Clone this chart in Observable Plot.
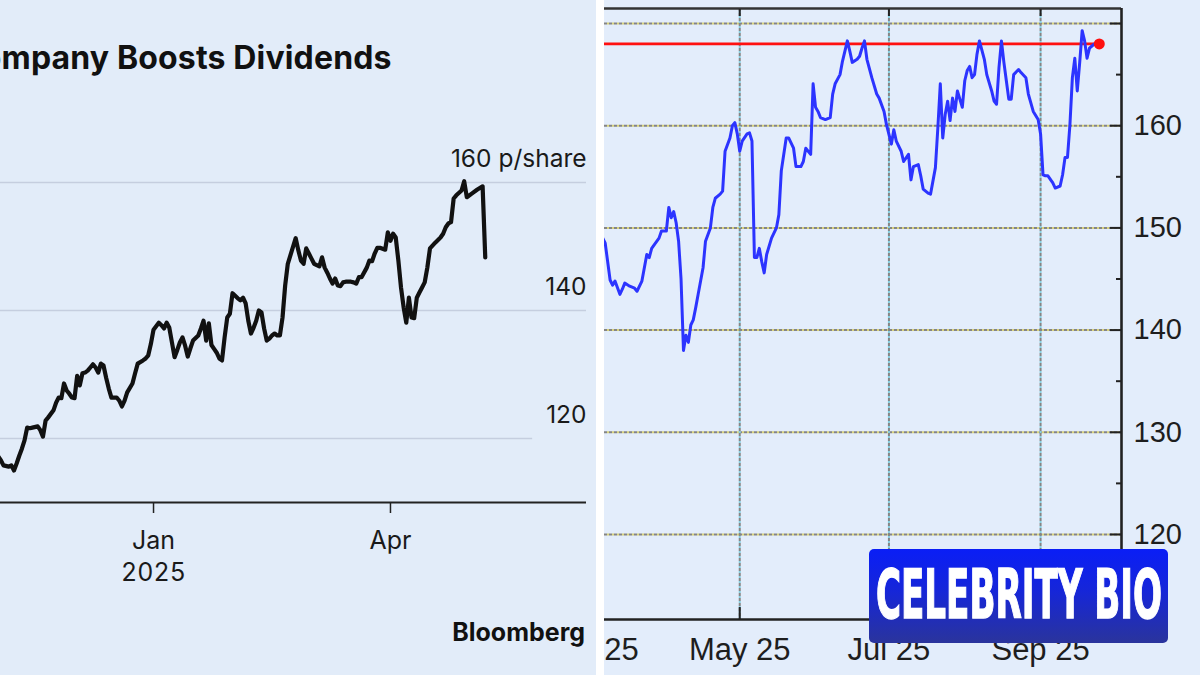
<!DOCTYPE html>
<html>
<head>
<meta charset="utf-8">
<script src="https://cdn.jsdelivr.net/npm/d3@7"></script>
<script src="https://cdn.jsdelivr.net/npm/@observablehq/plot@0.6"></script>
<style>
  html, body { margin: 0; padding: 0; background: #ffffff; }
  #stage { position: relative; width: 1200px; height: 675px; overflow: hidden; background: #ffffff; }
  #left { position: absolute; left: 0; top: 0; width: 596px; height: 675px; background: #e2ecf9; overflow: hidden; }
  #right { position: absolute; left: 604px; top: 0; width: 596px; height: 675px; background: #e3edfb; overflow: hidden; }
  #left svg, #right svg { position: absolute; left: 0; top: 0; }
  #title { position: absolute; left: -42px; top: 42px; font: 700 32px/32px Inter, "Liberation Sans", sans-serif; color: #111; white-space: nowrap; letter-spacing: 0.15px; }
  #source { position: absolute; right: 11px; top: 620px; font: 700 25px/25px Inter, "Liberation Sans", sans-serif; color: #111; white-space: nowrap; }
  #badge { position: absolute; left: 869px; top: 549px; width: 299px; height: 94px; border-radius: 5px;
           background: linear-gradient(180deg, #0a1ef6 0%, #1626d8 45%, #2a349c 100%); overflow: hidden; }
  #badge svg { display: block; }
</style>
</head>
<body>
<div id="stage">
  <div id="left">
    <div id="plotL"></div>
    <div id="title">Company Boosts Dividends</div>
    <div id="source">Bloomberg</div>
  </div>
  <div id="right"><div id="plotR"></div></div>
  <div id="badge">
    <svg width="299" height="94"><text id="badgeText" x="0" y="0"
      font-family="'Liberation Sans Narrow','DejaVu Sans Condensed','Liberation Sans',sans-serif"
      font-weight="700" font-size="67" fill="#ffffff" stroke="#ffffff" stroke-width="1.4">CELEBRITY BIO</text></svg>
  </div>
</div>
<script>
// ---------- LEFT CHART (Bloomberg, pence per share) ----------
const leftSeries = [
  ["2024-11-03",117.2],["2024-11-04",116.6],["2024-11-05",115.8],["2024-11-07",115.6],["2024-11-08",115.8],
  ["2024-11-09",115.0],["2024-11-10",116.1],["2024-11-11",117.3],["2024-11-12",118.4],["2024-11-13",119.7],
  ["2024-11-14",121.7],["2024-11-15",121.6],["2024-11-16",121.7],["2024-11-18",121.9],["2024-11-19",121.3],
  ["2024-11-20",120.3],["2024-11-21",122.8],["2024-11-22",123.3],["2024-11-24",124.4],["2024-11-25",125.6],
  ["2024-11-26",126.4],["2024-11-27",126.3],["2024-11-28",128.6],["2024-11-29",127.5],["2024-11-30",127.0],
  ["2024-12-01",126.4],["2024-12-02",126.3],["2024-12-03",129.8],["2024-12-04",128.3],["2024-12-05",130.2],
  ["2024-12-06",130.3],["2024-12-07",130.6],["2024-12-08",131.1],["2024-12-09",131.6],["2024-12-10",131.1],
  ["2024-12-11",130.3],["2024-12-12",131.7],["2024-12-13",131.4],["2024-12-14",129.5],["2024-12-15",127.8],
  ["2024-12-16",126.4],["2024-12-18",126.4],["2024-12-19",125.9],["2024-12-20",125.0],["2024-12-21",125.9],
  ["2024-12-22",127.2],["2024-12-24",128.6],["2024-12-25",130.2],["2024-12-26",131.7],["2024-12-28",132.2],
  ["2024-12-29",132.5],["2024-12-30",133.0],["2024-12-31",134.8],["2025-01-01",137.0],["2025-01-03",138.1],
  ["2025-01-04",137.7],["2025-01-05",137.2],["2025-01-06",138.1],["2025-01-07",137.3],["2025-01-08",135.0],
  ["2025-01-09",132.7],["2025-01-10",133.8],["2025-01-11",135.0],["2025-01-12",135.8],["2025-01-13",134.5],
  ["2025-01-14",132.8],["2025-01-15",134.1],["2025-01-16",135.3],["2025-01-18",136.1],["2025-01-19",137.2],
  ["2025-01-20",138.4],["2025-01-21",135.3],["2025-01-22",138.0],["2025-01-23",134.6],["2025-01-24",134.0],
  ["2025-01-25",133.4],["2025-01-26",132.5],["2025-01-27",132.2],["2025-01-28",135.8],["2025-01-29",138.9],
  ["2025-01-30",139.5],["2025-01-31",142.7],["2025-02-01",142.3],["2025-02-02",141.9],["2025-02-03",141.6],
  ["2025-02-04",142.0],["2025-02-05",141.1],["2025-02-06",138.4],["2025-02-07",136.4],["2025-02-08",137.3],
  ["2025-02-09",138.4],["2025-02-10",140.0],["2025-02-11",139.7],["2025-02-12",137.2],["2025-02-13",135.3],
  ["2025-02-14",135.6],["2025-02-15",136.1],["2025-02-16",136.4],["2025-02-17",136.1],["2025-02-18",136.1],
  ["2025-02-19",138.9],["2025-02-20",143.9],["2025-02-21",147.3],["2025-02-24",151.3],["2025-02-25",149.4],
  ["2025-02-26",147.8],["2025-02-27",147.3],["2025-02-28",149.7],["2025-03-01",148.9],["2025-03-02",148.1],
  ["2025-03-03",147.3],["2025-03-05",146.9],["2025-03-06",148.3],["2025-03-07",146.7],["2025-03-08",145.9],
  ["2025-03-09",145.0],["2025-03-10",144.2],["2025-03-11",145.0],["2025-03-12",143.9],["2025-03-13",143.8],
  ["2025-03-14",144.4],["2025-03-15",144.5],["2025-03-17",144.5],["2025-03-18",144.4],["2025-03-19",144.2],
  ["2025-03-20",145.2],["2025-03-21",145.2],["2025-03-23",146.7],["2025-03-24",147.8],["2025-03-25",147.7],
  ["2025-03-26",148.9],["2025-03-27",149.8],["2025-03-28",149.8],["2025-03-30",149.5],["2025-03-31",152.2],
  ["2025-04-01",150.9],["2025-04-02",152.0],["2025-04-03",151.4],["2025-04-04",147.8],["2025-04-05",143.6],
  ["2025-04-06",140.5],["2025-04-07",138.1],["2025-04-08",142.0],["2025-04-09",138.9],["2025-04-10",138.8],
  ["2025-04-11",142.0],["2025-04-12",142.8],["2025-04-13",143.6],["2025-04-14",144.4],["2025-04-15",146.7],
  ["2025-04-16",149.7],["2025-04-18",150.6],["2025-04-20",151.4],["2025-04-21",152.0],["2025-04-22",153.0],
  ["2025-04-23",153.6],["2025-04-24",153.8],["2025-04-25",157.5],["2025-04-26",158.0],["2025-04-28",158.75],
  ["2025-04-29",160.2],["2025-04-30",157.7],["2025-05-02",158.3],["2025-05-04",158.9],["2025-05-06",159.4],
  ["2025-05-07",148.3]
];
const leftYTicks = [120, 140, 160];
const leftYLabels = ["120", "140", "160 p/share"];
const leftGridEnd = ["2025-05-25", "2025-06-14T11:00Z", "2025-06-14T11:00Z"];
const leftXTicks = ["2025-01-01", "2025-04-01"];
const leftXLabels = ["Jan\n2025", "Apr"];

// ---------- RIGHT CHART (price, blue line with red level) ----------
const rightSeries = [
  ["2025-03-06",149.0],["2025-03-07",148.5],["2025-03-09",144.9],["2025-03-10",144.4],["2025-03-11",144.8],
  ["2025-03-13",143.5],["2025-03-14",144.0],["2025-03-15",144.6],["2025-03-17",144.3],["2025-03-19",144.1],
  ["2025-03-20",143.8],["2025-03-22",144.8],["2025-03-24",147.4],["2025-03-25",147.1],["2025-03-26",148.0],
  ["2025-03-29",149.0],["2025-03-30",149.7],["2025-04-01",149.7],["2025-04-02",152.0],["2025-04-03",151.0],
  ["2025-04-04",151.6],["2025-04-05",150.5],["2025-04-06",148.7],["2025-04-07",145.0],["2025-04-08",138.0],
  ["2025-04-09",139.5],["2025-04-10",138.8],["2025-04-11",140.5],["2025-04-12",141.0],["2025-04-13",142.2],
  ["2025-04-14",143.5],["2025-04-16",146.1],["2025-04-17",148.7],["2025-04-19",150.0],["2025-04-20",152.0],
  ["2025-04-21",152.9],["2025-04-23",153.3],["2025-04-24",153.6],["2025-04-25",157.5],["2025-04-27",158.8],
  ["2025-04-28",160.0],["2025-04-29",160.3],["2025-04-30",159.2],["2025-05-01",157.5],["2025-05-02",158.5],
  ["2025-05-04",159.2],["2025-05-05",159.3],["2025-05-06",158.5],["2025-05-07",147.1],["2025-05-08",147.1],
  ["2025-05-09",148.0],["2025-05-10",146.7],["2025-05-11",145.6],["2025-05-12",147.4],["2025-05-14",149.0],
  ["2025-05-16",150.0],["2025-05-17",151.3],["2025-05-18",155.6],["2025-05-20",158.8],["2025-05-21",158.8],
  ["2025-05-23",157.8],["2025-05-24",156.0],["2025-05-26",156.0],["2025-05-27",156.5],["2025-05-28",157.8],
  ["2025-05-30",157.2],["2025-05-31",164.1],["2025-06-01",161.8],["2025-06-02",161.4],["2025-06-03",160.8],
  ["2025-06-05",160.6],["2025-06-07",160.8],["2025-06-08",163.1],["2025-06-09",164.1],["2025-06-11",165.0],
  ["2025-06-12",166.3],["2025-06-14",168.3],["2025-06-15",167.3],["2025-06-16",166.2],["2025-06-18",166.5],
  ["2025-06-19",166.8],["2025-06-20",167.6],["2025-06-21",168.3],["2025-06-22",166.5],["2025-06-24",164.7],
  ["2025-06-26",163.1],["2025-06-27",162.7],["2025-06-29",161.4],["2025-06-30",160.1],["2025-07-02",158.2],
  ["2025-07-03",159.6],["2025-07-04",158.5],["2025-07-06",157.5],["2025-07-07",156.5],["2025-07-09",157.2],
  ["2025-07-10",154.7],["2025-07-11",156.0],["2025-07-13",156.2],["2025-07-14",155.1],["2025-07-15",153.8],
  ["2025-07-17",153.4],["2025-07-18",153.3],["2025-07-20",155.9],["2025-07-21",159.8],["2025-07-22",164.1],
  ["2025-07-23",158.8],["2025-07-24",161.1],["2025-07-25",162.4],["2025-07-26",160.5],["2025-07-27",162.7],
  ["2025-07-28",161.4],["2025-07-29",163.4],["2025-07-31",161.8],["2025-08-01",164.4],["2025-08-02",165.4],
  ["2025-08-03",165.8],["2025-08-04",164.7],["2025-08-05",165.0],["2025-08-06",167.0],["2025-08-07",168.3],
  ["2025-08-09",166.5],["2025-08-10",165.0],["2025-08-12",163.4],["2025-08-13",162.4],["2025-08-14",162.1],
  ["2025-08-15",165.7],["2025-08-16",168.3],["2025-08-17",166.2],["2025-08-18",164.4],["2025-08-19",162.6],
  ["2025-08-20",162.6],["2025-08-21",165.0],["2025-08-23",165.5],["2025-08-24",165.2],["2025-08-26",164.7],
  ["2025-08-27",163.1],["2025-08-29",161.4],["2025-08-31",160.6],["2025-09-01",159.2],["2025-09-02",155.2],
  ["2025-09-03",155.1],["2025-09-04",155.1],["2025-09-06",154.4],["2025-09-07",153.9],["2025-09-09",154.1],
  ["2025-09-10",155.2],["2025-09-11",156.9],["2025-09-12",156.9],["2025-09-13",160.1],["2025-09-14",164.7],
  ["2025-09-15",166.6],["2025-09-16",163.4],["2025-09-17",166.2],["2025-09-18",169.3],["2025-09-19",168.3],
  ["2025-09-20",166.6],["2025-09-21",167.6],["2025-09-22",167.8],["2025-09-23",168.0]
];
const redLevelValue = 168.0;
const redLevelDate = "2025-09-25";
const rightYMajor = [120, 130, 140, 150, 160, 170];
const rightYLabels = [120, 130, 140, 150, 160];
const rightYMinor = [115, 125, 135, 145, 155, 165];
const rightXTicks = ["2025-03-01", "2025-05-01", "2025-07-01", "2025-09-01"];
const rightXLabels = ["Mar 25", "May 25", "Jul 25", "Sep 25"];

// ---------- BUILD LEFT ----------
const L = leftSeries.map(([d, v]) => ({date: new Date(d), value: v}));
const lx0 = new Date("2024-11-03T21:00Z"), lx1 = new Date("2025-06-14T11:00Z");
const leftGrid = leftYTicks.map((v, i) => ({v, x1: lx0, x2: new Date(leftGridEnd[i]), label: leftYLabels[i]}));
const leftTickDates = leftXTicks.map(d => new Date(d));
const leftTickLabel = new Map(leftTickDates.map((d, i) => [+d, leftXLabels[i]]));

const leftPlot = Plot.plot({
  width: 596, height: 675,
  marginLeft: 0, marginRight: 10, marginTop: 182, marginBottom: 173,
  style: {background: "transparent", fontFamily: "Inter, 'Liberation Sans', sans-serif", color: "#1a1a1a"},
  x: {type: "utc", domain: [lx0, lx1], axis: null},
  y: {domain: [110, 160], axis: null},
  marks: [
    Plot.ruleY(leftGrid, {y: "v", x1: "x1", x2: "x2", stroke: "#c5cedf", strokeWidth: 1.6}),
    Plot.text(leftGrid, {y: "v", text: "label", frameAnchor: "right", textAnchor: "end", lineAnchor: "bottom",
      dy: -16, fontSize: 24.5, fill: "#1a1a1a"}),
    Plot.ruleY([110], {stroke: "#222", strokeWidth: 2}),
    Plot.axisX(leftTickDates, {anchor: "bottom", label: null, tickSize: 11, tickPadding: 12, strokeWidth: 1.5, stroke: "#222",
      tickFormat: d => leftTickLabel.get(+d), fontSize: 25, lineHeight: 1.3, fill: "#1a1a1a"}),
    Plot.line(L, {x: "date", y: "value", stroke: "#111", strokeWidth: 4.2, strokeLinejoin: "round", strokeLinecap: "round"})
  ]
});
document.getElementById("plotL").append(leftPlot);

// ---------- BUILD RIGHT ----------
const R = rightSeries.map(([d, v]) => ({date: new Date(d), value: v}));
const rx0 = new Date("2025-03-06T17:00Z"), rx1 = new Date("2025-10-04T02:00Z");
const ry0 = 111.68, ry1 = 171.47;
const rightTickDates = rightXTicks.map(d => new Date(d));
const rightTickLabel = new Map(rightTickDates.map((d, i) => [+d, rightXLabels[i]]));
const red = [{x1: new Date("2025-02-01"), date: new Date(redLevelDate), value: redLevelValue}];

const rightPlot = Plot.plot({
  width: 596, height: 675,
  marginLeft: 0, marginRight: 79, marginTop: 8, marginBottom: 56,
  style: {background: "transparent", fontFamily: "'Liberation Sans', Arial, sans-serif", color: "#222"},
  x: {type: "utc", domain: [rx0, rx1], axis: null},
  y: {domain: [ry0, ry1], axis: null},
  marks: [
    // dotted grid, grey with coloured gaps
    Plot.ruleY(rightYMajor, {stroke: "#858585", strokeWidth: 2, strokeDasharray: "3,2"}),
    Plot.ruleY(rightYMajor, {stroke: "#d8d27c", strokeWidth: 2, strokeDasharray: "2,3", strokeDashoffset: 2}),
    Plot.ruleX(rightTickDates, {stroke: "#858585", strokeWidth: 2, strokeDasharray: "3,2"}),
    Plot.ruleX(rightTickDates, {stroke: "#86cfe0", strokeWidth: 2, strokeDasharray: "2,3", strokeDashoffset: 2}),
    // red level line and marker
    Plot.ruleY(red, {y: "value", x1: "x1", x2: "date", stroke: "#ff1010", strokeWidth: 2.8}),
    // price line
    Plot.line(R, {x: "date", y: "value", stroke: "#2c34ff", strokeWidth: 3, strokeLinejoin: "round"}),
    Plot.dot(red, {x: "date", y: "value", r: 5.5, fill: "#ff1010", stroke: "none"}),
    // frame (top, bottom, right)
    Plot.ruleY([ry1], {stroke: "#333", strokeWidth: 2.4}),
    Plot.ruleY([ry0], {stroke: "#222", strokeWidth: 2.6}),
    Plot.ruleX([rx1], {stroke: "#222", strokeWidth: 2.6}),
    // right axis, inward ticks
    Plot.axisY(rightYMajor, {anchor: "right", label: null, tickSize: 12, dx: -12, tickPadding: 12, strokeWidth: 2, stroke: "#222",
      tickFormat: d => rightYLabels.includes(d) ? String(d) : "", fontSize: 29, fill: "#1e1e1e"}),
    Plot.axisY(rightYMinor, {anchor: "right", label: null, tickSize: 6, dx: -6, strokeWidth: 2, stroke: "#222", tickFormat: () => ""}),
    // bottom axis, inward ticks
    Plot.axisX(rightTickDates, {anchor: "bottom", label: null, tickSize: 12, dy: -12, tickPadding: 18, strokeWidth: 2, stroke: "#222",
      tickFormat: d => rightTickLabel.get(+d), fontSize: 31, fill: "#1e1e1e"}),
    // top axis ticks
    Plot.axisX(rightTickDates, {anchor: "top", label: null, tickSize: 7, dy: 7, strokeWidth: 2, stroke: "#222", tickFormat: () => ""})
  ]
});
document.getElementById("plotR").append(rightPlot);

// ---------- BADGE TEXT: fit to box with a horizontal scale ----------
const bt = document.getElementById("badgeText");
const natural = bt.getComputedTextLength();
const sx = 286 / natural;
bt.setAttribute("transform", `translate(7,69) scale(${sx},1)`);
</script>
</body>
</html>
